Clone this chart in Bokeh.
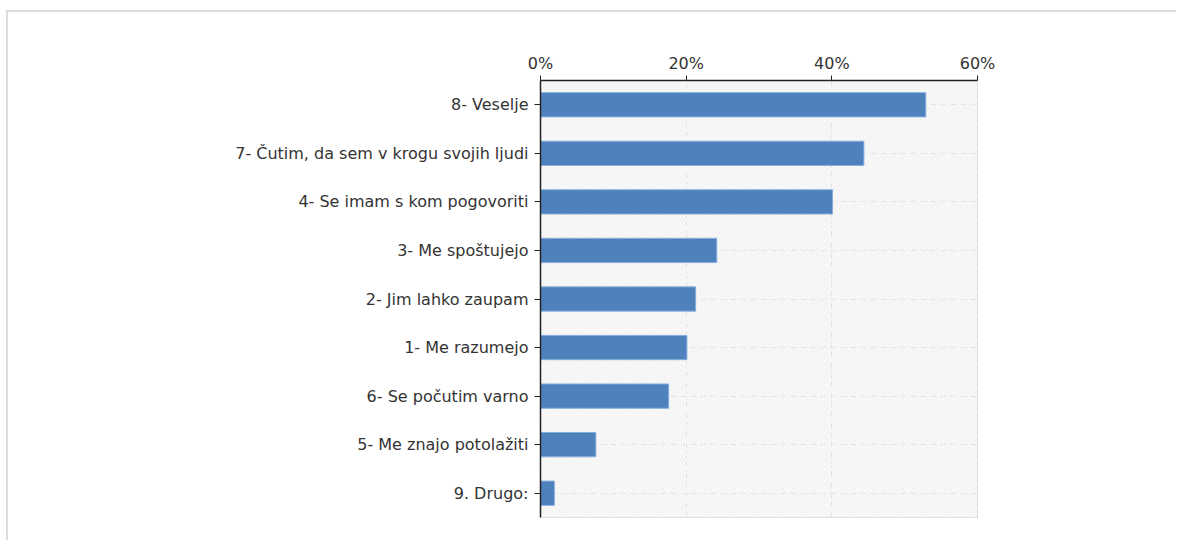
from bokeh.plotting import figure
from bokeh.models import FixedTicker, PrintfTickFormatter, BoxAnnotation
from bokeh.embed import file_html
from bokeh.resources import INLINE

categories = [
    "8- Veselje",
    "7- Čutim, da sem v krogu svojih ljudi",
    "4- Se imam s kom pogovoriti",
    "3- Me spoštujejo",
    "2- Jim lahko zaupam",
    "1- Me razumejo",
    "6- Se počutim varno",
    "5- Me znajo potolažiti",
    "9. Drugo:",
]
values = [52.9, 44.4, 40.1, 24.2, 21.3, 20.1, 17.6, 7.6, 1.9]
ticks = [0, 20, 40, 60]

FONT = "DejaVu Sans"

p = figure(
    width=1170, height=530,
    y_range=list(reversed(categories)),
    x_range=(0, 60),
    x_axis_location="above",
    output_backend="svg",
    toolbar_location=None,
    min_border_left=532, min_border_right=201,
    min_border_top=68, min_border_bottom=25,
)
p.styles = {"border-top": "2px solid #dcdcdc", "border-left": "2px solid #dcdcdc",
            "margin-left": "6px", "margin-top": "10px"}

p.background_fill_color = "#fafafa"
p.add_layout(BoxAnnotation(fill_alpha=0, line_alpha=0,
                           hatch_pattern="/", hatch_color="#eeeeee",
                           hatch_alpha=1.0, hatch_scale=6, hatch_weight=1,
                           level="underlay"))

p.hbar(y=categories, right=values, left=0, height=0.5,
       fill_color="#4F81BD", line_color="#86AEDD", line_width=1)

p.xaxis.ticker = FixedTicker(ticks=ticks)
p.xaxis.formatter = PrintfTickFormatter(format="%d%%")
p.xaxis.minor_tick_line_color = None
p.xaxis.major_tick_out = 5
p.xaxis.major_tick_in = 0
p.yaxis.major_tick_out = 6
p.yaxis.major_tick_in = 0
for ax in (p.xaxis[0], p.yaxis[0]):
    ax.axis_line_color = "#222222"
    ax.axis_line_width = 1.5
    ax.major_tick_line_color = "#222222"
    ax.major_label_text_font = FONT
    ax.major_label_text_font_size = "16px"
    ax.major_label_text_color = "#333333"
p.xaxis.major_label_standoff = 3
p.yaxis.major_label_standoff = 6

p.xgrid.grid_line_color = "#e2e2e2"
p.xgrid.grid_line_dash = "6 4"
p.ygrid.grid_line_color = "#e2e2e2"
p.ygrid.grid_line_dash = "6 4"
p.outline_line_color = "#dddddd"
p.outline_line_width = 1

open("out.html", "w").write(file_html(p, INLINE))
